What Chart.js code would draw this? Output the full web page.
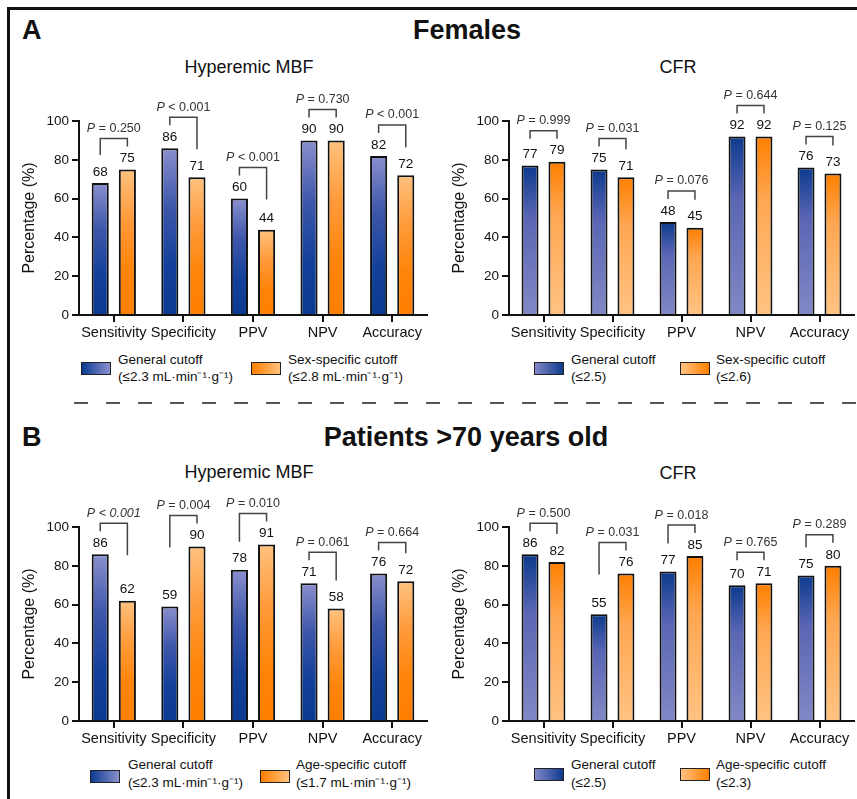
<!DOCTYPE html>
<html>
<head>
<meta charset="utf-8">
<script src="https://cdn.jsdelivr.net/npm/chart.js@4/dist/chart.umd.min.js"></script>
<style>
  html, body { margin:0; padding:0; background:#fff; }
  #fig { position:relative; width:857px; height:799px; overflow:hidden; background:#fff;
         font-family:'Liberation Sans', Arial, sans-serif; color:#111; }
  .abs { position:absolute; white-space:nowrap; }
  .panel { font-weight:bold; font-size:27px; line-height:27px; }
  .sub { font-size:18px; line-height:18px; transform:translateX(-50%); }
  .head { font-weight:bold; font-size:27px; line-height:27px; transform:translateX(-50%); }
  canvas { position:absolute; }
  .lbox { position:absolute; width:28px; height:11px; border:1.5px solid #222; }
  .ltxt { position:absolute; font-size:13.5px; line-height:17px; white-space:nowrap; color:#111; }
  .dash { position:absolute; left:74px; top:402px; width:790px; height:2px;
          background:repeating-linear-gradient(to right,#555 0,#555 14px,transparent 14px,transparent 32px); }
</style>
</head>
<body>
<div id="fig">
  <div class="abs" style="left:7px;top:7px;width:850px;height:3px;background:#111;"></div>
  <div class="abs" style="left:7px;top:7px;width:3px;height:792px;background:#111;"></div>
  <div class="dash"></div>

  <div class="abs panel" style="left:22px;top:17px;">A</div>
  <div class="abs head" style="left:467px;top:17px;">Females</div>
  <div class="abs sub" style="left:249px;top:58px;">Hyperemic MBF</div>
  <div class="abs sub" style="left:678px;top:58px;">CFR</div>

  <div class="abs panel" style="left:22px;top:424px;">B</div>
  <div class="abs head" style="left:466px;top:424px;">Patients &gt;70 years old</div>
  <div class="abs sub" style="left:249px;top:463px;">Hyperemic MBF</div>
  <div class="abs sub" style="left:678px;top:464px;">CFR</div>

  <canvas id="cA1" width="430" height="260" style="left:0px;top:85px;"></canvas>
  <canvas id="cA2" width="427" height="260" style="left:430px;top:85px;"></canvas>
  <canvas id="cB1" width="430" height="260" style="left:0px;top:491px;"></canvas>
  <canvas id="cB2" width="427" height="260" style="left:430px;top:491px;"></canvas>

  <!-- legends -->
  <div class="lbox" style="left:81px;top:362px;background:linear-gradient(to right,#0b3a92,#8b90cf);"></div>
  <div class="ltxt" style="left:118px;top:351px;">General cutoff<br>(≤2.3 mL·min⁻¹·g⁻¹)</div>
  <div class="lbox" style="left:251px;top:362px;background:linear-gradient(to right,#ff7f00,#ffc27e);"></div>
  <div class="ltxt" style="left:288px;top:351px;">Sex-specific cutoff<br>(≤2.8 mL·min⁻¹·g⁻¹)</div>

  <div class="lbox" style="left:534px;top:362px;background:linear-gradient(to right,#8288c6,#0d3a8e);"></div>
  <div class="ltxt" style="left:571px;top:351px;">General cutoff<br>(≤2.5)</div>
  <div class="lbox" style="left:680px;top:362px;background:linear-gradient(to right,#ffc383,#ff7f00);"></div>
  <div class="ltxt" style="left:716px;top:351px;">Sex-specific cutoff<br>(≤2.6)</div>

  <div class="lbox" style="left:90px;top:770px;background:linear-gradient(to right,#0b3a92,#8b90cf);"></div>
  <div class="ltxt" style="left:128px;top:756px;line-height:18px;">General cutoff<br>(≤2.3 mL·min⁻¹·g⁻¹)</div>
  <div class="lbox" style="left:260px;top:770px;background:linear-gradient(to right,#ff7f00,#ffc27e);"></div>
  <div class="ltxt" style="left:296px;top:756px;line-height:18px;">Age-specific cutoff<br>(≤1.7 mL·min⁻¹·g⁻¹)</div>

  <div class="lbox" style="left:534px;top:768px;background:linear-gradient(to right,#8288c6,#0d3a8e);"></div>
  <div class="ltxt" style="left:571px;top:756px;line-height:18px;">General cutoff<br>(≤2.5)</div>
  <div class="lbox" style="left:680px;top:768px;background:linear-gradient(to right,#ffc383,#ff7f00);"></div>
  <div class="ltxt" style="left:716px;top:756px;line-height:18px;">Age-specific cutoff<br>(≤2.3)</div>
</div>

<script>
// ---------- DATA ----------
const categories = ['Sensitivity', 'Specificity', 'PPV', 'NPV', 'Accuracy'];
const yTickStep = 20;
const yMax = 100;

const femalesMbfGeneral      = [68, 86, 60, 90, 82];
const femalesMbfSexSpecific  = [75, 71, 44, 90, 72];
const femalesMbfP            = ['= 0.250', '< 0.001', '< 0.001', '= 0.730', '< 0.001'];

const femalesCfrGeneral      = [77, 75, 48, 92, 76];
const femalesCfrSexSpecific  = [79, 71, 45, 92, 73];
const femalesCfrP            = ['= 0.999', '= 0.031', '= 0.076', '= 0.644', '= 0.125'];

const elderlyMbfGeneral      = [86, 59, 78, 71, 76];
const elderlyMbfAgeSpecific  = [62, 90, 91, 58, 72];
const elderlyMbfP            = ['< 0.001', '= 0.004', '= 0.010', '= 0.061', '= 0.664'];

const elderlyCfrGeneral      = [86, 55, 77, 70, 75];
const elderlyCfrAgeSpecific  = [82, 76, 85, 71, 80];
const elderlyCfrP            = ['= 0.500', '= 0.031', '= 0.018', '= 0.765', '= 0.289'];

// ---------- STYLE ----------
const FONT = "'Liberation Sans', Arial, sans-serif";
Chart.defaults.font.family = FONT;
Chart.defaults.color = '#111';

const GRAD = {
  up: { // dark at base, light at top (MBF)
    blue:   [[0, '#8a8fce'], [0.35, '#3d57aa'], [0.7, '#13409a'], [1, '#0b3a92']],
    orange: [[0, '#ffc27e'], [0.35, '#ff9a3a'], [0.7, '#ff8408'], [1, '#ff7f00']]
  },
  down: { // dark at top, light at base (CFR)
    blue:   [[0, '#0d3a8e'], [0.35, '#5a66b4'], [1, '#8288c6']],
    orange: [[0, '#ff7f00'], [0.35, '#ffa752'], [1, '#ffc383']]
  }
};

function barFill(dir, tone) {
  return (c) => {
    const chart = c.chart;
    const fallback = tone === 'blue' ? '#3551a6' : '#ff9a38';
    if (!chart.chartArea || c.type !== 'data' || !chart.scales.y) return fallback;
    const ys = chart.scales.y;
    const top = ys.getPixelForValue(c.raw);
    const base = ys.getPixelForValue(0);
    if (!isFinite(top) || !isFinite(base) || top === base) return fallback;
    const g = chart.ctx.createLinearGradient(0, top, 0, base);
    GRAD[dir][tone].forEach(([s, col]) => g.addColorStop(s, col));
    return g;
  };
}

const annotate = {
  id: 'annotate',
  afterDatasetsDraw(chart, args, opts) {
    const ctx = chart.ctx;
    const m0 = chart.getDatasetMeta(0).data, m1 = chart.getDatasetMeta(1).data;
    const d0 = chart.data.datasets[0].data, d1 = chart.data.datasets[1].data;
    ctx.save();
    for (let i = 0; i < m0.length; i++) {
      const a = m0[i], b = m1[i];
      ctx.fillStyle = '#111';
      ctx.font = '13.5px ' + FONT;
      ctx.textAlign = 'center';
      ctx.textBaseline = 'middle';
      ctx.fillText(String(d0[i]), a.x, a.y - 11);
      ctx.fillText(String(d1[i]), b.x, b.y - 11);

      const top = Math.min(a.y, b.y) - 31;
      const legFor = (y) => Math.max(top + 8, Math.min(y - 28, top + 32));
      const legA = legFor(a.y), legB = legFor(b.y);
      ctx.strokeStyle = '#444';
      ctx.lineWidth = 1.5;
      ctx.beginPath();
      ctx.moveTo(a.x, legA); ctx.lineTo(a.x, top); ctx.lineTo(b.x, top); ctx.lineTo(b.x, legB);
      ctx.stroke();

      const cx = (a.x + b.x) / 2, ty = top - 10;
      const italicRest = (opts.italicAll || []).includes(i);
      const fI = 'italic 12.5px ' + FONT, fN = '12.5px ' + FONT;
      ctx.font = fI; const wP = ctx.measureText('P').width;
      const rest = ' ' + opts.p[i];
      ctx.font = italicRest ? fI : fN; const wR = ctx.measureText(rest).width;
      const x0 = cx - (wP + wR) / 2;
      ctx.textAlign = 'left';
      ctx.fillStyle = '#333';
      ctx.font = fI; ctx.fillText('P', x0, ty);
      ctx.font = italicRest ? fI : fN; ctx.fillText(rest, x0 + wP, ty);
    }
    ctx.restore();
  }
};

function makeChart(id, general, specific, pvals, specLabel, dir, italicAll) {
  return new Chart(document.getElementById(id), {
    type: 'bar',
    data: {
      labels: categories,
      datasets: [
        { label: 'General cutoff', data: general, backgroundColor: barFill(dir, 'blue'),
          borderColor: '#111', borderWidth: 2, borderSkipped: 'bottom',
          categoryPercentage: 0.78, barPercentage: 0.63 },
        { label: specLabel, data: specific, backgroundColor: barFill(dir, 'orange'),
          borderColor: '#111', borderWidth: 2, borderSkipped: 'bottom',
          categoryPercentage: 0.78, barPercentage: 0.63 }
      ]
    },
    options: {
      responsive: false,
      animation: false,
      layout: { padding: { left: 20, top: 36, right: 3, bottom: 0 } },
      plugins: {
        legend: { display: false },
        tooltip: { enabled: false },
        annotate: { p: pvals, italicAll: italicAll || [] }
      },
      scales: {
        x: {
          offset: true,
          grid: { offset: false, drawOnChartArea: false, drawTicks: true, tickLength: 7, color: '#111', lineWidth: 2 },
          border: { color: '#111', width: 2 },
          ticks: { color: '#111', font: { size: 14.5 }, padding: 2, maxRotation: 0, autoSkip: false },
          afterFit: (s) => { s.height = 30; }
        },
        y: {
          min: 0, max: yMax,
          ticks: { stepSize: yTickStep, color: '#111', font: { size: 13.5 }, padding: 3 },
          grid: { drawOnChartArea: false, drawTicks: true, tickLength: 7, color: '#111', lineWidth: 2 },
          border: { color: '#111', width: 2 },
          title: { display: true, text: 'Percentage (%)', color: '#111', font: { size: 16 }, padding: { top: 0, bottom: 0 } },
          afterFit: (s) => { s.width = 59; }
        }
      }
    },
    plugins: [annotate]
  });
}

makeChart('cA1', femalesMbfGeneral, femalesMbfSexSpecific, femalesMbfP, 'Sex-specific cutoff', 'up');
makeChart('cA2', femalesCfrGeneral, femalesCfrSexSpecific, femalesCfrP, 'Sex-specific cutoff', 'down');
makeChart('cB1', elderlyMbfGeneral, elderlyMbfAgeSpecific, elderlyMbfP, 'Age-specific cutoff', 'up', [0]);
makeChart('cB2', elderlyCfrGeneral, elderlyCfrAgeSpecific, elderlyCfrP, 'Age-specific cutoff', 'down');
</script>
</body>
</html>
